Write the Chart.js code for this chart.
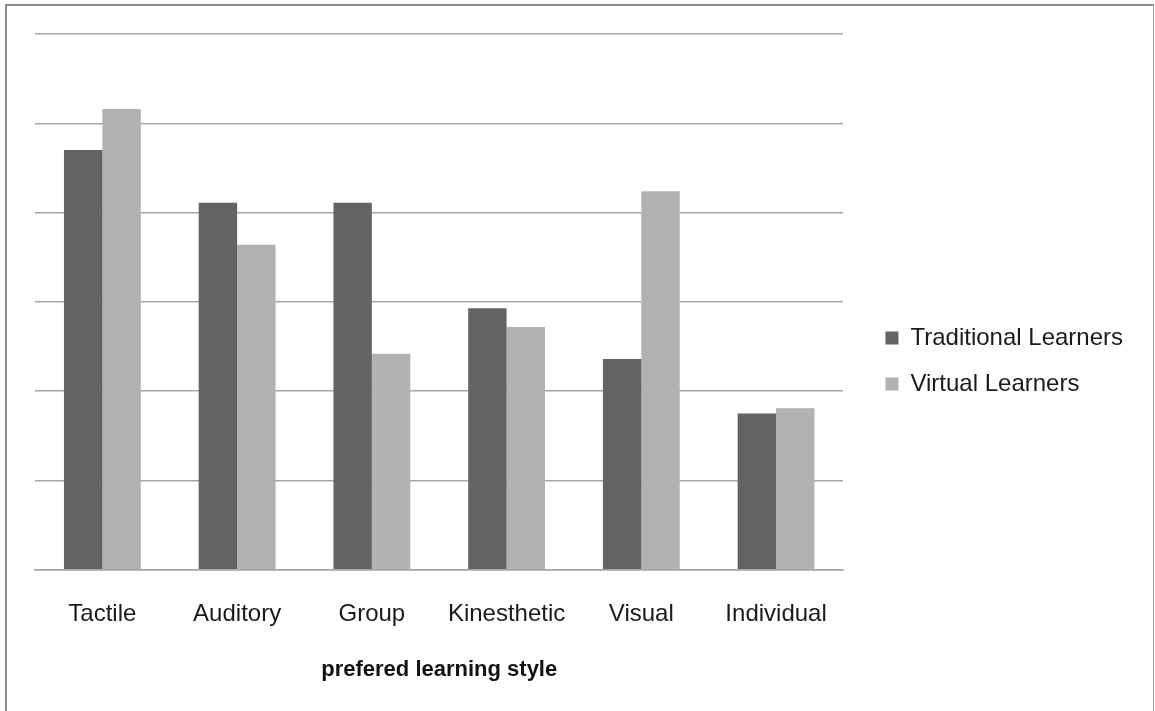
<!DOCTYPE html>
<html>
<head>
<meta charset="utf-8">
<script src="https://cdn.jsdelivr.net/npm/chart.js@4/dist/chart.umd.min.js"></script>
<style>
  html, body { margin: 0; padding: 0; background: #fff; overflow: hidden; }
  #wrap { position: relative; width: 1155px; height: 711px; }
  #frame { position: absolute; left: 5px; top: 4px; width: 1146px; height: 720px;
           border-top: 2px solid #8c8c8c; border-left: 2px solid #8c8c8c; border-right: 1px solid #a8a8a8;
           pointer-events: none; }
  canvas { display: block; }
</style>
</head>
<body>
<div id="wrap">
  <canvas id="c" width="1155" height="711"></canvas>
  <div id="frame"></div>
</div>
<script>
const categories = ["Tactile", "Auditory", "Group", "Kinesthetic", "Visual", "Individual"];
const traditionalLearners = [23.5, 20.55, 20.55, 14.65, 11.8, 8.75];
const virtualLearners = [25.8, 18.2, 12.1, 13.6, 21.2, 9.05];
const seriesNames = ["Traditional Learners", "Virtual Learners"];
const xAxisTitle = "prefered learning style";

const FONT = "'Liberation Sans', Arial, sans-serif";

new Chart(document.getElementById('c'), {
  type: 'bar',
  data: {
    labels: categories,
    datasets: [
      { label: seriesNames[0], data: traditionalLearners, backgroundColor: '#636363', borderWidth: 0 },
      { label: seriesNames[1], data: virtualLearners, backgroundColor: '#b2b2b2', borderWidth: 0 }
    ]
  },
  options: {
    responsive: false,
    animation: false,
    devicePixelRatio: 1,
    layout: { padding: { left: 35, top: 34, right: 22, bottom: 23 } },
    datasets: { bar: { categoryPercentage: 0.57, barPercentage: 1.0 } },
    plugins: {
      tooltip: { enabled: false },
      legend: {
        position: 'right',
        align: 'center',
        labels: {
          font: { family: FONT, size: 24 },
          color: '#1a1a1a',
          boxWidth: 13,
          boxHeight: 13,
          padding: 22
        }
      }
    },
    scales: {
      x: {
        grid: { display: false, drawTicks: false },
        border: { display: true, color: '#a6a6a6', width: 1.5 },
        ticks: { font: { family: FONT, size: 24 }, color: '#1a1a1a', padding: 30 },
        title: {
          display: true,
          text: xAxisTitle,
          font: { family: FONT, size: 22, weight: 'bold' },
          color: '#111',
          padding: { top: -2, bottom: 5 }
        }
      },
      y: {
        position: 'right',
        min: 0, max: 30,
        ticks: { display: false, stepSize: 5 },
        grid: { color: '#a6a6a6', lineWidth: 1.5, drawTicks: false },
        border: { display: false },
        afterFit: (s) => { s.width = 20; }
      }
    }
  }
});
</script>
</body>
</html>
